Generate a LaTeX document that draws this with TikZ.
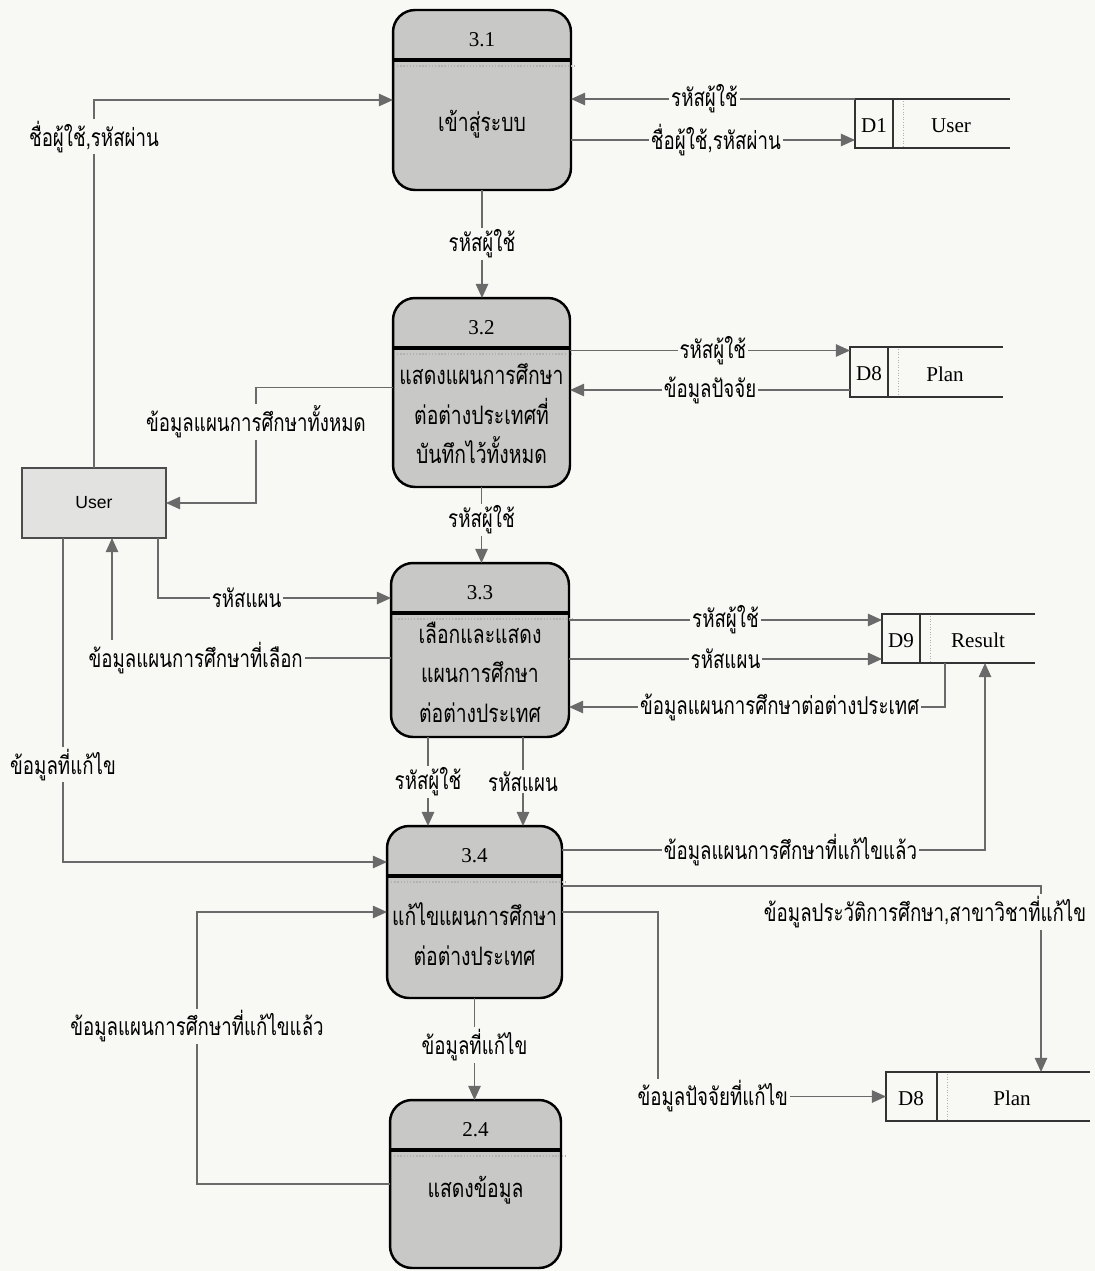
\documentclass[tikz,border=0pt]{standalone}
\usepackage{fontspec}
\setmainfont{Liberation Serif}
\newfontfamily\thaifont[Script=Thai,FakeStretch=0.76]{Loma}
\newfontfamily\arialfont{Liberation Sans}
\usetikzlibrary{positioning, arrows.meta, calc}
\definecolor{pagebg}{HTML}{F8F8F5}
\definecolor{procfill}{HTML}{C8C8C6}
\definecolor{userfill}{HTML}{E2E2E0}
\definecolor{flowgray}{HTML}{6A6A6A}
\tikzset{
        my-process/.style={
            draw=black, fill=procfill, rounded corners=0.44cm, line width=1.4pt, outer sep=0pt, inner sep=0pt
        },
        my-divider/.style={line width=2.4pt, black},
        my-dots/.style={densely dotted, line width=0.8pt, black!30},
        my-entity/.style={
            draw=black!70, fill=userfill, line width=0.6pt, minimum width=2.88cm, minimum height=1.4cm,
            outer sep=0pt, font=\arialfont\fontsize{10}{12}\selectfont
        },
        my-store/.style={minimum height=0.98cm, outer sep=0pt, inner sep=0pt},
        my-store-line/.style={black!80, line width=0.7pt},
        my-num/.style={font=\fontsize{12}{14}\selectfont},
        my-text/.style={font=\thaifont\fontsize{14.5}{22.5}\selectfont, align=center},
        my-flow/.style={draw=flowgray, line width=0.9pt, -{Triangle[length=8pt,width=7pt]}},
        my-label/.style={fill=pagebg, inner sep=1pt, font=\thaifont\fontsize{14}{16}\selectfont},
}

\begin{document}
\begin{tikzpicture}[x=0.02cm, y=-0.02cm]

        \useasboundingbox[fill=pagebg] (0,0) rectangle (1095,1271);

        %DRAW PROCESSES (placed at coordinates, texts relative to each box)
        \node [my-process, minimum width=3.56cm, minimum height=3.6cm]  (P31) at (482,100)      {};
        \node [my-process, minimum width=3.54cm, minimum height=3.78cm] (P32) at (481.5,392.5)  {};
        \node [my-process, minimum width=3.56cm, minimum height=3.48cm] (P33) at (480,650)      {};
        \node [my-process, minimum width=3.5cm,  minimum height=3.44cm] (P34) at (474.5,912)    {};
        \node [my-process, minimum width=3.42cm, minimum height=3.36cm] (P24) at (475.5,1184)   {};

        \foreach \p/\n in {P31/3.1, P32/3.2, P33/3.3, P34/3.4, P24/2.4} {
            \draw [my-divider] ($(\p.north west)+(0,50)$) -- ($(\p.north east)+(0,50)$);
            \draw [my-dots]    ($(\p.north west)+(4,56)$) -- ($(\p.north east)+(4,56)$);
            \node [my-num]     (\p n) at ($(\p.north)+(0,30)$) {\n};
        }

        \node [my-text] (P31t) at ($(P31.north)+(0,114)$) {เข้าสู่ระบบ};
        \node [my-text] (P32t) at ($(P32.north)+(0,116)$) {แสดงแผนการศึกษา\\ต่อต่างประเทศที่\\บันทึกไว้ทั้งหมด};
        \node [my-text] (P33t) at ($(P33.north)+(0,109)$) {เลือกและแสดง\\แผนการศึกษา\\ต่อต่างประเทศ};
        \node [my-text] (P34t) at ($(P34.north)+(0,108)$) {แก้ไขแผนการศึกษา\\ต่อต่างประเทศ};
        \node [my-text] (P24t) at ($(P24.north)+(0,90)$)  {แสดงข้อมูล};

        %DRAW EXTERNAL ENTITY
        \node [my-entity] (User) at (94,503) {User};

        %DRAW DATA STORES
        \node [my-store, minimum width=3.1cm]                       (D1)  at (932.5,123.5) {};
        \node [my-store, minimum width=3.06cm, minimum height=1cm]  (D8a) at (926.5,372)   {};
        \node [my-store, minimum width=3.06cm]                      (D9)  at (958.5,638.5) {};
        \node [my-store, minimum width=4.08cm]                      (D8b) at (988,1096.5)  {};

        \foreach \s/\d in {D1/38, D8a/38, D9/38, D8b/51} {
            \draw [my-store-line] (\s.north east) -- (\s.north west) -- (\s.south west) -- (\s.south east);
            \draw [my-store-line] ($(\s.north west)+(\d,0)$) -- ($(\s.south west)+(\d,0)$);
            \draw [my-dots, line width=0.5pt] ($(\s.north west)+(\d+10,2)$) -- ($(\s.south west)+(\d+10,-2)$);
        }

        \node [my-num] (D1id)  at ($(D1.west)+(19,2)$)    {D1};
        \node [my-num] (D1nm)  at ($(D1.west)+(96,2)$)    {User};
        \node [my-num] (D8aid) at ($(D8a.west)+(19,2)$)   {D8};
        \node [my-num] (D8anm) at ($(D8a.west)+(95,2)$)   {Plan};
        \node [my-num] (D9id)  at ($(D9.west)+(19,2)$)    {D9};
        \node [my-num] (D9nm)  at ($(D9.west)+(96,2)$)    {Result};
        \node [my-num] (D8bid) at ($(D8b.west)+(25,2)$)   {D8};
        \node [my-num] (D8bnm) at ($(D8b.west)+(126,2)$)  {Plan};

        % CONNECT PROCESS 3.1
        \coordinate (P31o) at ($(P31.east)+(0,40)$);
        \draw [my-flow] (User.north) |- node[my-label, pos=0.45] {ชื่อผู้ใช้,รหัสผ่าน} (P31.west);
        \draw [my-flow] (D1.north west) -- node[my-label, pos=0.53] {รหัสผู้ใช้} (D1.north west -| P31.east);
        \draw [my-flow] (P31o) -- node[my-label, pos=0.51] {ชื่อผู้ใช้,รหัสผ่าน} (P31o -| D1.west);
        \draw [my-flow] (P31.south) -- node[my-label] {รหัสผู้ใช้} (P31.south |- P32.north);

        % CONNECT PROCESS 3.2
        \coordinate (P32o) at ($(P32.east)+(0,-42)$);
        \coordinate (D8ao) at ($(D8a.west)+(0,18)$);
        \draw [my-flow] (P32o) -- node[my-label, pos=0.51] {รหัสผู้ใช้} (P32o -| D8a.west);
        \draw [my-flow] (D8ao) -- node[my-label, pos=0.5] {ข้อมูลปัจจัย} (D8ao -| P32.east);
        \draw [my-flow] ($(P32.west)+(0,-5)$) -| node[my-label, pos=0.65] {ข้อมูลแผนการศึกษาทั้งหมด} ($(User.east)+(90,0)$) -- (User.east);
        \draw [my-flow] (P32.south) -- node[my-label, pos=0.43] {รหัสผู้ใช้} (P32.south |- P33.north);

        % CONNECT PROCESS 3.3
        \coordinate (P33a) at ($(P33.east)+(0,-30)$);
        \coordinate (P33b) at ($(P33.east)+(0,9)$);
        \coordinate (P33c) at ($(P33.south)+(-52,0)$);
        \coordinate (P33d) at ($(P33.south)+(43,0)$);
        \draw [my-flow] ($(User.south east)+(-8,0)$) |- node[my-label, pos=0.69] {รหัสแผน} ($(P33.north west)+(0,35)$);
        \draw [my-flow] ($(P33.west)+(0,8)$) -| node[my-label, pos=0.35] {ข้อมูลแผนการศึกษาที่เลือก} ($(User.south)+(18,0)$);
        \draw [my-flow] (P33a) -- node[my-label] {รหัสผู้ใช้} (P33a -| D9.west);
        \draw [my-flow] (P33b) -- node[my-label] {รหัสแผน} (P33b -| D9.west);
        \draw [my-flow] ($(D9.south west)+(63,0)$) |- node[my-label, pos=0.72] {ข้อมูลแผนการศึกษาต่อต่างประเทศ} ($(P33.east)+(0,57)$);
        \draw [my-flow] (P33c) -- node[my-label] {รหัสผู้ใช้} (P33c |- P34.north);
        \draw [my-flow] (P33d) -- node[my-label] {รหัสแผน} (P33d |- P34.north);

        % CONNECT PROCESS 3.4
        \draw [my-flow] ($(User.south west)+(41,0)$) |- node[my-label, pos=0.35] {ข้อมูลที่แก้ไข} ($(P34.west)+(0,-50)$);
        \draw [my-flow] ($(P34.east)+(0,-62)$) -| node[my-label, pos=0.27] {ข้อมูลแผนการศึกษาที่แก้ไขแล้ว} ($(D9.south west)+(103,0)$);
        \draw [my-flow] ($(P34.east)+(0,-26)$) -| ($(D8b.north west)+(155,0)$);
        \node [my-label] (L34) at ($(D8b.north west)+(39,-160)$) {ข้อมูลประวัติการศึกษา,สาขาวิชาที่แก้ไข};
        \draw [my-flow] (P34.east) -| ($(D8b.west)+(-228,0)$) -- node[my-label, pos=0.24] {ข้อมูลปัจจัยที่แก้ไข} (D8b.west);
        \draw [my-flow] (P34.south) -- node[my-label, pos=0.46] {ข้อมูลที่แก้ไข} (P34.south |- P24.north);

        % CONNECT PROCESS 2.4
        \draw [my-flow] (P24.west) -| node[my-label, pos=0.79] {ข้อมูลแผนการศึกษาที่แก้ไขแล้ว} ($(P34.west)+(-190,0)$) -- (P34.west);

\end{tikzpicture}
\end{document}
